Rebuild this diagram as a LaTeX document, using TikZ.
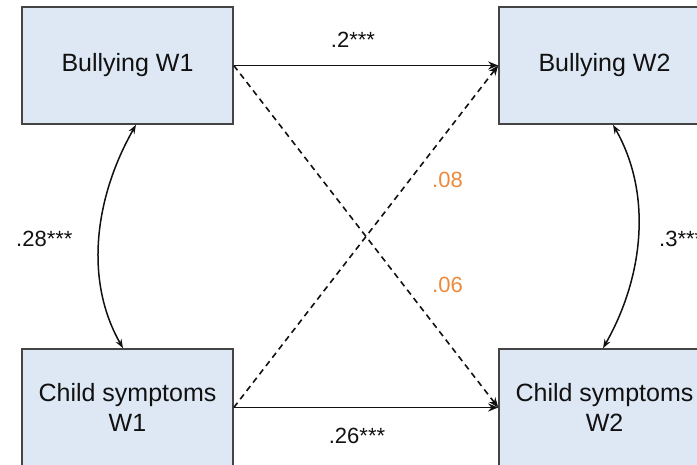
\documentclass[tikz,border=0pt]{standalone}
\usepackage{fontspec}
\setmainfont{Liberation Sans}
\usetikzlibrary{arrows.meta}
\definecolor{boxfill}{HTML}{DEE8F4}
\definecolor{boxline}{HTML}{444444}
\definecolor{weakpath}{HTML}{EB8A3D}
\definecolor{ink}{HTML}{111111}
\tikzset{
  varbox/.style={draw=boxline, line width=1.6pt, fill=boxfill,
    minimum width=211pt, minimum height=117pt, inner sep=0pt,
    align=center, text=ink, font=\fontsize{25}{30}\selectfont},
  pathline/.style={line width=1.9pt, draw=ink, -{Stealth[length=10pt,width=8pt]}},
  crossline/.style={line width=1.6pt, draw=ink, dash pattern=on 6pt off 4.5pt,
    -{Stealth[length=10pt,width=8pt]}},
  covline/.style={line width=1.5pt, draw=ink,
    {Stealth[length=9pt,width=6.5pt]}-{Stealth[length=9pt,width=6.5pt]}},
  coef/.style={text=ink, inner sep=0pt, font=\fontsize{22}{26}\selectfont},
  weakcoef/.style={coef, text=weakpath}
}
\begin{document}
\begin{tikzpicture}[x=1pt, y=-1pt]
  \useasboundingbox (0,0) rectangle (697,465);

  % the four measured variables
  \node[varbox] (b1) at (127.5,65.5) {Bullying W1};
  \node[varbox] (b2) at (604.5,65.5) {Bullying W2};
  \node[varbox] (c1) at (127.5,407.5) {Child symptoms\\W1};
  \node[varbox] (c2) at (604.5,407.5) {Child symptoms\\W2};

  % autoregressive paths
  \draw[pathline] (b1.east) -- (b2.west);
  \draw[pathline] (c1.east) -- (c2.west);

  % cross-lagged paths
  \draw[crossline] (b1.east) -- (c2.west);
  \draw[crossline] (c1.east) -- (b2.west);

  % within-wave covariances (near-circular arcs)
  \draw[covline] ([xshift=8.5pt]b1.south) .. controls +(-40,70) and +(-40,-70) .. ([xshift=-4.5pt]c1.north);
  \draw[covline] ([xshift=8.5pt]b2.south) .. controls +(40,70) and +(40,-70) .. ([xshift=-1.5pt]c2.north);

  % coefficients
  \node[coef, anchor=base] (l1) at (353,48) {.2***};
  \node[coef, anchor=base] (l2) at (357,443) {.26***};
  \node[coef, anchor=base west] (l3) at (16,247) {.28***};
  \node[coef, anchor=base west] (l4) at (659,247) {.3***};
  \node[weakcoef, anchor=base west] (l5) at (432,188) {.08};
  \node[weakcoef, anchor=base west] (l6) at (432,293) {.06};
\end{tikzpicture}
\end{document}
